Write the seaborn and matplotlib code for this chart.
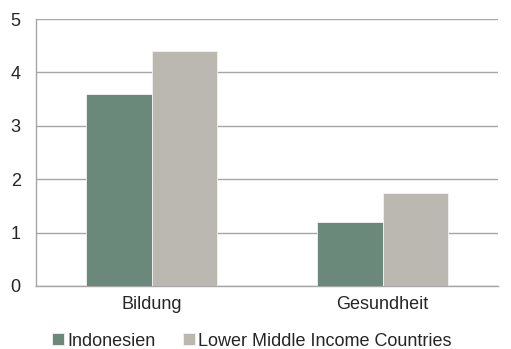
import matplotlib
matplotlib.use("Agg")
import matplotlib.pyplot as plt
import seaborn as sns
import pandas as pd

categories = ["Bildung", "Gesundheit"]
series = ["Indonesien", "Lower Middle Income Countries"]
indonesien = [3.6, 1.2]
lmic = [4.4, 1.75]
colors = ["#6B897B", "#BBB8B1"]

df = pd.DataFrame({
    "Bereich": categories * 2,
    "Gruppe": [series[0]] * 2 + [series[1]] * 2,
    "Wert": indonesien + lmic,
})

sns.set_style("white")
plt.rcParams["font.family"] = ["Liberation Sans", "DejaVu Sans"]

fig = plt.figure(figsize=(5.11, 3.49), dpi=100)
ax = fig.add_axes([36 / 511, 1 - 286 / 349, 462 / 511, 267 / 349])

sns.barplot(data=df, x="Bereich", y="Wert", hue="Gruppe", palette=colors,
            saturation=1, width=0.57, ax=ax, edgecolor="#F2F2F2",
            linewidth=0.6, zorder=3)

ax.set_ylim(0, 5)
ax.set_xlim(-0.5, 1.5)
ax.set_yticks(range(0, 6))
ax.yaxis.grid(True, color="#A6A6A6", linewidth=1.0, zorder=0)
ax.set_axisbelow(True)
for side in ["top", "right"]:
    ax.spines[side].set_visible(False)
ax.spines["left"].set_color("#A6A6A6")
ax.spines["bottom"].set_color("#A6A6A6")
ax.spines["left"].set_linewidth(1.0)
ax.spines["bottom"].set_linewidth(1.0)
ax.set_xlabel("")
ax.set_ylabel("")

# y ticks pointing outward, x ticks at category boundaries
ax.tick_params(axis="y", length=5, color="#A6A6A6", width=1.0, labelsize=13, pad=6)
ax.tick_params(axis="x", length=0, labelsize=13, pad=7)
ax.set_xticks([0, 1])
ax.set_xticklabels(categories)
ax.set_xticks([-0.5, 0.5, 1.5], minor=True)
ax.tick_params(axis="x", which="minor", length=5, color="#A6A6A6", width=1.0, direction="out")

handles, labels = ax.get_legend_handles_labels()
fig.legend(handles, labels, loc="center", bbox_to_anchor=(252 / 511, 1 - 341 / 349),
           ncol=2, frameon=False, fontsize=13, handlelength=0.65, handleheight=0.65,
           handletextpad=0.2, columnspacing=1.5, borderaxespad=0, borderpad=0)
ax.get_legend().remove()

fig.savefig("out.png", dpi=100)
